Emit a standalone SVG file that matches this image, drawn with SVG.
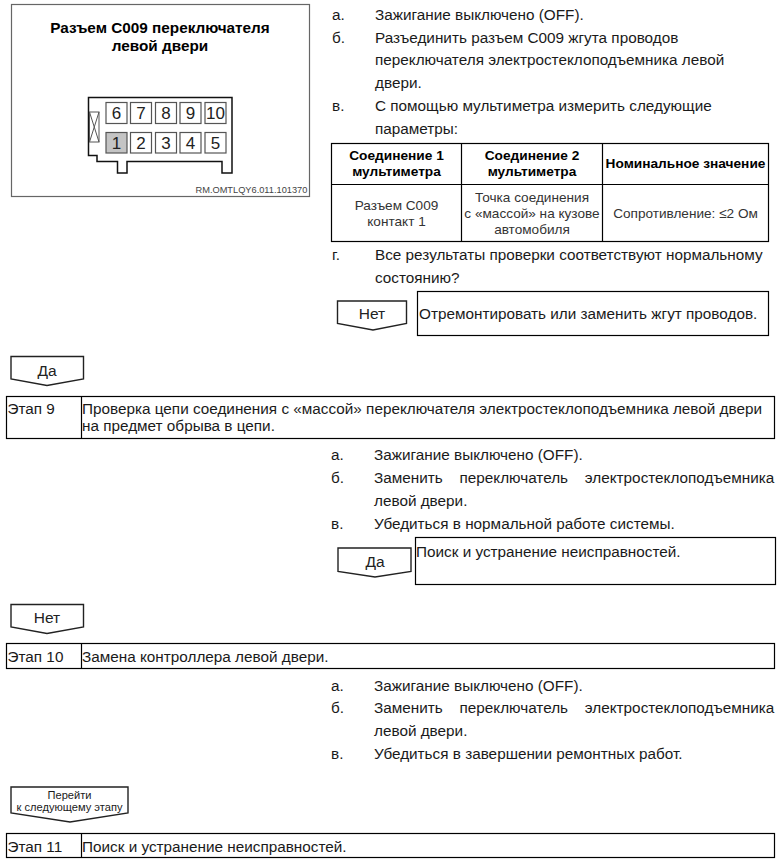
<svg xmlns="http://www.w3.org/2000/svg" width="780" height="866" viewBox="0 0 780 866">
<style>
text{font-family:"Liberation Sans",Arial,sans-serif;font-size:15.3px;fill:#1a1a1a}
.box{fill:#fff;stroke:#000;stroke-width:1.2}
.fig{fill:none;stroke:#666;stroke-width:1.2}
.pin{fill:#fff;stroke:#555;stroke-width:1.2}
.hs{fill:none;stroke:#111;stroke-width:1.5}
.flag{fill:#fff;stroke:#222;stroke-width:1.4}
.b{font-weight:bold;fill:#000}
.h{font-weight:bold;font-size:13.7px;text-anchor:middle;fill:#000}
.c{font-size:13.6px;text-anchor:middle;fill:#333}
.m{text-anchor:middle}
.n{font-size:17px;text-anchor:middle;fill:#222}
.f{font-size:15.5px;text-anchor:middle;fill:#222}
</style>
<rect width="780" height="866" fill="#fff"/>
<g id="connector-figure">
<rect class="fig" x="11.500" y="4.500" width="298" height="192"/>
<text class="b m" x="160" y="33">Разъем С009 переключателя</text>
<text class="b m" x="160" y="51">левой двери</text>
<path class="hs" d="M88.500 97.500H232V173H222V161.500H127V173H117.500V161.500H97V155.500H88.500Z"/>
<rect x="89.500" y="112" width="9.500" height="30" fill="#fff" stroke="#555"/>
<path d="M89.500 112L99 142M99 112L89.500 142" stroke="#555" fill="none"/>
<rect class="pin" x="106" y="102.500" width="21" height="21"/><text class="n" x="116.500" y="119">6</text>
<rect class="pin" x="130.500" y="102.500" width="21" height="21"/><text class="n" x="141" y="119">7</text>
<rect class="pin" x="155.500" y="102.500" width="21" height="21"/><text class="n" x="166" y="119">8</text>
<rect class="pin" x="180" y="102.500" width="21" height="21"/><text class="n" x="190.500" y="119">9</text>
<rect class="pin" x="205" y="102.500" width="21" height="21"/><text class="n" x="215.500" y="119">10</text>
<rect class="pin" x="106" y="132.500" width="21" height="20.500" style="fill:#c4c4c4"/><text class="n" x="116.500" y="149">1</text>
<rect class="pin" x="130.500" y="132.500" width="21" height="20.500"/><text class="n" x="141" y="149">2</text>
<rect class="pin" x="155.500" y="132.500" width="21" height="20.500"/><text class="n" x="166" y="149">3</text>
<rect class="pin" x="180" y="132.500" width="21" height="20.500"/><text class="n" x="190.500" y="149">4</text>
<rect class="pin" x="205" y="132.500" width="21" height="20.500"/><text class="n" x="215.500" y="149">5</text>
<text x="195.500" y="193" style="font-size:9.250px;fill:#444">RM.OMTLQY6.011.101370</text>
</g>
<g id="steps-top">
<text x="332" y="20">а.</text><text x="375" y="20">Зажигание выключено (OFF).</text>
<text x="332" y="43">б.</text><text x="375" y="43">Разъединить разъем С009 жгута проводов</text>
<text x="375" y="65">переключателя электростеклоподъемника левой</text>
<text x="375" y="88">двери.</text>
<text x="332" y="111">в.</text><text x="375" y="111">С помощью мультиметра измерить следующие</text>
<text x="375" y="134">параметры:</text>
</g>
<g id="measure-table">
<rect class="box" x="331.500" y="143.500" width="437" height="98"/>
<path d="M331.500 184.500H768.500M461.500 143.500V241.500M602.500 143.500V241.500" stroke="#000" stroke-width="1.200" fill="none"/>
<text class="h" x="396.500" y="160">Соединение 1</text><text class="h" x="396.500" y="176">мультиметра</text>
<text class="h" x="532" y="160">Соединение 2</text><text class="h" x="532" y="176">мультиметра</text>
<text class="h" x="685.500" y="168">Номинальное значение</text>
<text class="c" x="396.500" y="210">Разъем С009</text><text class="c" x="396.500" y="226">контакт 1</text>
<text class="c" x="532" y="202">Точка соединения</text><text class="c" x="532" y="218">с «массой» на кузове</text><text class="c" x="532" y="234">автомобиля</text>
<text class="c" x="685.500" y="218">Сопротивление: ≤2 Ом</text>
</g>
<g id="step-g">
<text x="332" y="260">г.</text><text x="375" y="260">Все результаты проверки соответствуют нормальному</text>
<text x="375" y="283">состоянию?</text>
</g>
<g id="flag-net-1"><path class="flag" d="M337.500 301H406.500V323.500L373 330L337.500 323.500Z"/><text class="f" x="372" y="319">Нет</text></g>
<g id="action-repair"><rect class="box" x="417.500" y="291.500" width="351" height="44"/><text x="419" y="319">Отремонтировать или заменить жгут проводов.</text></g>
<g id="flag-da-1"><path class="flag" d="M11 356.500H83.500V379L47 385.500L11 379Z"/><text class="f" x="47" y="376">Да</text></g>
<g id="step-9">
<rect class="box" x="6.500" y="396.500" width="768" height="42"/>
<path d="M81.500 396.500V438.500" stroke="#000" stroke-width="1.200"/>
<text x="7.500" y="414">Этап 9</text>
<text x="82" y="414">Проверка цепи соединения с «массой» переключателя электростеклоподъемника левой двери</text>
<text x="82" y="431">на предмет обрыва в цепи.</text>
</g>
<g id="steps-9">
<text x="331" y="460">а.</text><text x="374" y="460">Зажигание выключено (OFF).</text>
<text x="331" y="483">б.</text><text x="374" y="483" style="word-spacing:12.500px">Заменить переключатель электростеклоподъемника</text>
<text x="374" y="506">левой двери.</text>
<text x="331" y="529">в.</text><text x="374" y="529">Убедиться в нормальной работе системы.</text>
</g>
<g id="flag-da-2"><path class="flag" d="M338 548H411V571.500L375 577L338 571.500Z"/><text class="f" x="375" y="567">Да</text></g>
<g id="action-fix"><rect class="box" x="415.500" y="537.500" width="360" height="47"/><text x="416" y="557">Поиск и устранение неисправностей.</text></g>
<g id="flag-net-2"><path class="flag" d="M11 604.500H83.500V627L47 633.500L11 627Z"/><text class="f" x="47" y="623">Нет</text></g>
<g id="step-10">
<rect class="box" x="6.500" y="643.500" width="768" height="25"/>
<path d="M81.500 643.500V668.500" stroke="#000" stroke-width="1.200"/>
<text x="7.500" y="662">Этап 10</text><text x="82" y="662">Замена контроллера левой двери.</text>
</g>
<g id="steps-10">
<text x="331" y="691">а.</text><text x="374" y="691">Зажигание выключено (OFF).</text>
<text x="331" y="713">б.</text><text x="374" y="713" style="word-spacing:12.500px">Заменить переключатель электростеклоподъемника</text>
<text x="374" y="736">левой двери.</text>
<text x="331" y="759">в.</text><text x="374" y="759">Убедиться в завершении ремонтных работ.</text>
</g>
<g id="flag-next"><path class="flag" d="M11 787H128V813L70 822L11 813Z"/><text class="m" x="69.500" y="799" style="font-size:11.100px">Перейти</text><text class="m" x="69.500" y="811" style="font-size:11.100px">к следующему этапу</text></g>
<g id="step-11">
<rect class="box" x="6.500" y="833.500" width="768" height="24"/>
<path d="M81.500 833.500V857.500" stroke="#000" stroke-width="1.200"/>
<text x="7.500" y="852">Этап 11</text><text x="82" y="852">Поиск и устранение неисправностей.</text>
</g>
</svg>
